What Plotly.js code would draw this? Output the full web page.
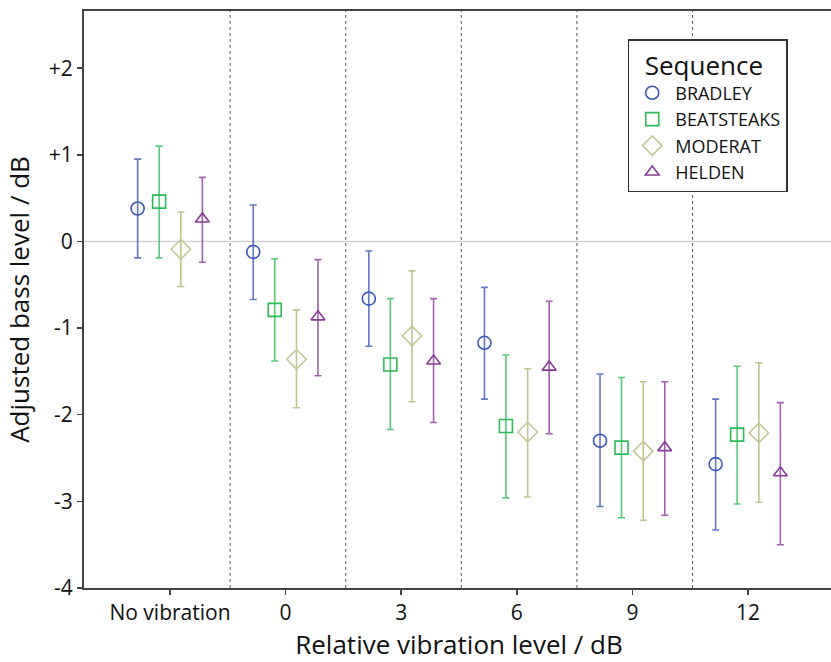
<!DOCTYPE html>
<html>
<head>
<meta charset="utf-8">
<script src="https://cdn.plot.ly/plotly-3.0.1.min.js"></script>
<style>
html,body{margin:0;padding:0;overflow:hidden;background:#fff;}
#chart{width:836px;height:662px;}
</style>
</head>
<body>
<div id="chart"></div>
<script>
// Categories (x axis)
const categories = ["No vibration", "0", "3", "6", "9", "12"];
// Series names
const seriesNames = ["BRADLEY", "BEATSTEAKS", "MODERAT", "HELDEN"];
// Means (adjusted bass level / dB)
const bradleyMean    = [0.38, -0.12, -0.66, -1.17, -2.30, -2.57];
const beatsteaksMean = [0.46, -0.79, -1.42, -2.13, -2.38, -2.23];
const moderatMean    = [-0.09, -1.36, -1.09, -2.20, -2.42, -2.21];
const heldenMean     = [0.26, -0.87, -1.38, -1.45, -2.38, -2.67];
// Upper ends of error bars
const bradleyUpper    = [0.95, 0.42, -0.11, -0.53, -1.53, -1.82];
const beatsteaksUpper = [1.10, -0.20, -0.66, -1.31, -1.57, -1.44];
const moderatUpper    = [0.34, -0.79, -0.34, -1.47, -1.62, -1.40];
const heldenUpper     = [0.74, -0.21, -0.66, -0.69, -1.62, -1.86];
// Lower ends of error bars
const bradleyLower    = [-0.19, -0.67, -1.21, -1.82, -3.06, -3.33];
const beatsteaksLower = [-0.19, -1.38, -2.17, -2.96, -3.19, -3.03];
const moderatLower    = [-0.52, -1.92, -1.85, -2.95, -3.22, -3.01];
const heldenLower     = [-0.24, -1.55, -2.09, -2.22, -3.16, -3.50];
// Y tick labels
const yTickVals = [-4, -3, -2, -1, 0, 1, 2];
const yTickText = ["-4", "-3", "-2", "-1", "0", "+1", "+2"];

const means  = [bradleyMean, beatsteaksMean, moderatMean, heldenMean];
const uppers = [bradleyUpper, beatsteaksUpper, moderatUpper, heldenUpper];
const lowers = [bradleyLower, beatsteaksLower, moderatLower, heldenLower];

const colors  = ["#3d57b5", "#2dbb57", "#c4c797", "#893a98"];
const barCols = ["rgba(61,87,181,0.8)", "rgba(45,187,87,0.8)", "rgba(184,188,130,0.9)", "rgba(137,58,152,0.8)"];
const symbols = ["circle-open", "square-open", "diamond-open", "triangle-up-open"];
const sizes   = [13, 13, 15, 12];
const offsets = [-0.28, -0.094, 0.094, 0.28];

const FONT = "Open Sans, Noto Sans, sans-serif";

const traces = seriesNames.map((name, s) => ({
  type: "scatter",
  mode: "markers",
  name: name,
  x: categories.map((c, i) => i + offsets[s]),
  y: means[s],
  marker: {symbol: symbols[s], size: sizes[s], color: colors[s], line: {width: 1.6, color: colors[s]}},
  error_y: {
    type: "data", symmetric: false,
    array: means[s].map((m, i) => uppers[s][i] - m),
    arrayminus: means[s].map((m, i) => m - lowers[s][i]),
    color: barCols[s], thickness: 1.6, width: 3.5
  }
}));

const shapes = [];
for (let i = 0; i < categories.length - 1; i++) {
  shapes.push({type: "line", xref: "x", yref: "paper", x0: i + 0.52, x1: i + 0.52, y0: 0, y1: 1,
    line: {color: "#555", width: 1, dash: "dot"}, layer: "below"});
}
shapes.push({type: "line", xref: "paper", yref: "y", x0: 0, x1: 1, y0: 0, y1: 0,
  line: {color: "#d2d2d2", width: 1.5}, layer: "below"});

const layout = {
  width: 836, height: 662,
  margin: {l: 84, r: 2, t: 11, b: 74},
  paper_bgcolor: "#fff", plot_bgcolor: "#fff",
  font: {family: FONT, color: "#111", size: 20},
  showlegend: true,
  legend: {
    x: 0.725, y: 0.951, xanchor: "left", yanchor: "top",
    bgcolor: "#fff", bordercolor: "#333", borderwidth: 1.5,
    font: {family: FONT, size: 18, color: "#111"},
    title: {text: "&nbsp;&nbsp;Sequence", font: {family: FONT, size: 26, color: "#111"}},
    tracegroupgap: 0, itemwidth: 36
  },
  xaxis: {
    range: [-0.744, 5.744],
    tickmode: "array", tickvals: categories.map((c, i) => i), ticktext: categories,
    ticks: "outside", ticklen: 5, tickwidth: 1.5, tickcolor: "#444",
    showline: true, linecolor: "#444", linewidth: 2, mirror: true,
    showgrid: false, zeroline: false,
    tickfont: {family: FONT, size: 21, color: "#111"},
    title: {text: "Relative vibration level / dB", font: {family: FONT, size: 26, color: "#111"}, standoff: 12}
  },
  yaxis: {
    range: [-4, 2.66],
    tickmode: "array", tickvals: yTickVals, ticktext: yTickText,
    ticks: "outside", ticklen: 5, tickwidth: 1.5, tickcolor: "#444",
    showline: true, linecolor: "#444", linewidth: 2, mirror: true,
    showgrid: false, zeroline: false,
    tickfont: {family: FONT, size: 21, color: "#111"},
    title: {text: "Adjusted bass level / dB", font: {family: FONT, size: 26, color: "#111"}, standoff: 12}
  },
  shapes: shapes
};

Plotly.newPlot("chart", traces, layout, {displayModeBar: false, staticPlot: true});
</script>
</body>
</html>
